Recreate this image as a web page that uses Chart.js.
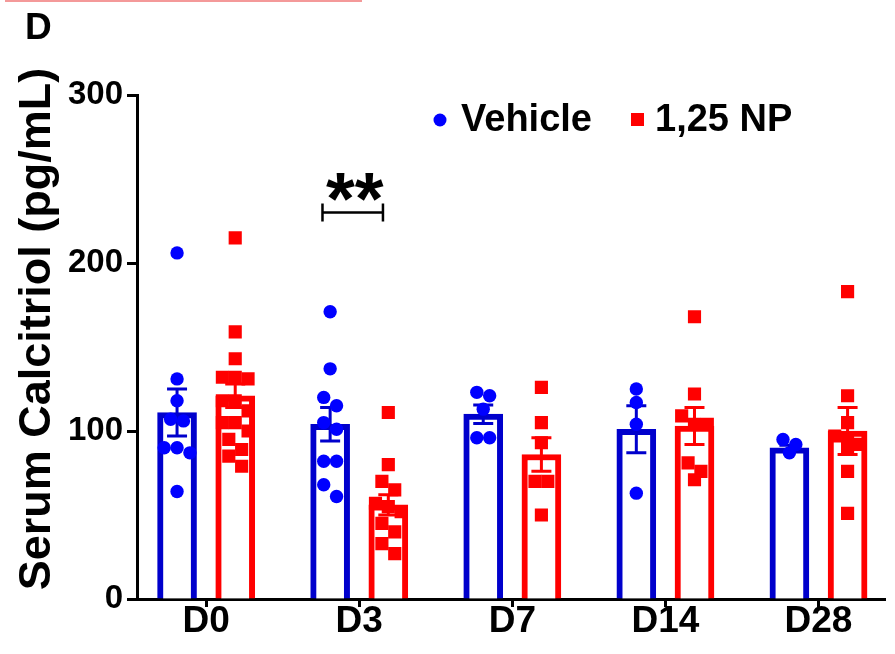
<!DOCTYPE html>
<html><head><meta charset="utf-8">
<script src="https://cdn.jsdelivr.net/npm/chart.js@4.4.1/dist/chart.umd.min.js"></script>
<style>html,body{margin:0;padding:0;background:#fff;overflow:hidden;}#wrap{width:895px;height:654px;}canvas{display:block;}</style>
</head><body><div id="wrap"><canvas id="c" width="895" height="654"></canvas></div>
<script>
// ---- data ----
const categories = ['D0', 'D3', 'D7', 'D14', 'D28'];
const yTicks = [0, 100, 200, 300];
const seriesNames = ['Vehicle', '1,25 NP'];
const yTitle = 'Serum Calcitriol (pg/mL)';
const panelLabel = 'D';

const vehicleD0 = [206, 131, 118, 107, 106, 90, 90, 87, 64];
const vehicleD3 = [171, 137, 120, 115, 105, 101, 82, 82, 68, 61];
const vehicleD7 = [123, 121, 113, 96, 96];
const vehicleD14 = [125, 117, 104, 63];
const vehicleD28 = [95, 92, 87];

const npD0 = [215, 159, 143, 132, 132, 131, 118, 118, 112, 105, 105, 100, 95, 89, 85, 79];
const npD3 = [111, 80, 70, 65, 57, 55, 52, 45, 40, 33, 27];
const npD7 = [126, 105, 93, 70, 70, 50];
const npD14 = [168, 122, 109, 104, 104, 81, 76, 71];
const npD28 = [183, 121, 105, 97, 95, 92, 89, 76, 51];

const vehicleMean = [111, 104, 110, 101, 90];
const vehicleSem = [14, 10, 5.5, 14, 1.5];
const npMean = [121, 56, 86, 103, 100];
const npSem = [7, 6, 10, 11, 14];

const sigLabel = '**';
const sigCategory = 1;
const sigValue = 230;

const vehiclePoints = [vehicleD0, vehicleD3, vehicleD7, vehicleD14, vehicleD28];
const npPoints = [npD0, npD3, npD7, npD14, npD28];

// ---- layout / style ----
const BLUE_BAR = '#0000cc', BLUE_PT = '#0000ff', RED = '#ff0000';
const FONT = '"Liberation Sans", Arial, sans-serif';
const GROUP_OFF = 0.19;
const PX_PER_X = 155, PX_PER_Y = 504 / 300, DOT = 13;

function swarm(values, catIndex, side) {
  const sorted = values.slice().sort((a, b) => b - a);
  const rows = []; let cur = null;
  sorted.forEach(v => {
    if (cur && (cur[0] - v) * PX_PER_Y < DOT) cur.push(v);
    else { cur = [v]; rows.push(cur); }
  });
  const out = [];
  rows.forEach(r => r.forEach((v, k) => {
    const off = (k - (r.length - 1) / 2) * DOT;
    out.push({ x: catIndex + side * GROUP_OFF + off / PX_PER_X, y: v });
  }));
  return out;
}

const vehicleScatter = vehiclePoints.flatMap((vals, i) => swarm(vals, i, -1));
const npScatter = npPoints.flatMap((vals, i) => swarm(vals, i, 1));

const decor = {
  id: 'decor',
  beforeDraw(chart) {
    const ctx = chart.ctx;
    ctx.save(); ctx.fillStyle = '#fff'; ctx.fillRect(0, 0, chart.width, chart.height);
    // remnant of the neighbouring panel at the top edge
    ctx.fillStyle = 'rgba(235,70,70,0.55)'; ctx.fillRect(5, 0, 357, 2);
    ctx.restore();
  },
  afterDatasetDraw(chart, args) {
    const ds = chart.data.datasets[args.index];
    if (!ds.semValues) return;
    const ctx = chart.ctx, ys = chart.scales.y;
    ctx.save();
    ctx.strokeStyle = ds.borderColor; ctx.lineWidth = 3;
    args.meta.data.forEach((bar, i) => {
      const m = ds.data[i].y, s = ds.semValues[i];
      const x = bar.x, y1 = ys.getPixelForValue(m + s), y2 = ys.getPixelForValue(m - s);
      ctx.beginPath();
      ctx.moveTo(x, y1); ctx.lineTo(x, y2);
      ctx.moveTo(x - 10, y1); ctx.lineTo(x + 10, y1);
      ctx.moveTo(x - 10, y2); ctx.lineTo(x + 10, y2);
      ctx.stroke();
    });
    ctx.restore();
  },
  afterDraw(chart) {
    const ctx = chart.ctx, xs = chart.scales.x, ys = chart.scales.y;
    ctx.save();
    ctx.fillStyle = '#000';
    // panel label
    ctx.font = 'bold 37px ' + FONT; ctx.textAlign = 'left'; ctx.textBaseline = 'alphabetic';
    ctx.fillText(panelLabel, 25, 39);
    // y title
    ctx.save();
    ctx.translate(38, 329); ctx.rotate(-Math.PI / 2);
    ctx.font = 'bold 45px ' + FONT; ctx.textAlign = 'center'; ctx.textBaseline = 'middle';
    ctx.fillText(yTitle, 0, 0);
    ctx.restore();
    // legend
    ctx.font = 'bold 38px ' + FONT; ctx.textBaseline = 'middle'; ctx.textAlign = 'left';
    ctx.fillStyle = BLUE_PT; ctx.beginPath(); ctx.arc(440, 120, 6.5, 0, Math.PI * 2); ctx.fill();
    ctx.fillStyle = '#000'; ctx.fillText(seriesNames[0], 461, 121);
    ctx.fillStyle = RED; ctx.fillRect(631, 113, 13, 13);
    ctx.fillStyle = '#000'; ctx.fillText(seriesNames[1], 655, 121);
    // significance
    const by = ys.getPixelForValue(sigValue);
    const bx1 = xs.getPixelForValue(sigCategory - 0.24), bx2 = xs.getPixelForValue(sigCategory + 0.155);
    ctx.strokeStyle = '#000'; ctx.lineWidth = 2.5;
    ctx.beginPath();
    ctx.moveTo(bx1, by); ctx.lineTo(bx2, by);
    ctx.moveTo(bx1, by - 9); ctx.lineTo(bx1, by + 9);
    ctx.moveTo(bx2, by - 9); ctx.lineTo(bx2, by + 9);
    ctx.stroke();
    ctx.font = 'bold 74px ' + FONT; ctx.textAlign = 'center'; ctx.textBaseline = 'alphabetic';
    ctx.fillText(sigLabel, (bx1 + bx2) / 2 + 2, by + 11);
    ctx.restore();
  }
};

Chart.defaults.font.family = FONT;
new Chart(document.getElementById('c'), {
  type: 'bar',
  data: {
    datasets: [
      { type: 'bar', label: seriesNames[0], data: vehicleMean.map((m, i) => ({ x: i - GROUP_OFF, y: m })),
        semValues: vehicleSem, backgroundColor: '#fff', borderColor: BLUE_BAR, borderWidth: 6,
        borderSkipped: 'start', barThickness: 39, grouped: false, order: 3 },
      { type: 'bar', label: seriesNames[1], data: npMean.map((m, i) => ({ x: i + GROUP_OFF, y: m })),
        semValues: npSem, backgroundColor: '#fff', borderColor: RED, borderWidth: 6,
        borderSkipped: 'start', barThickness: 39, grouped: false, order: 2 },
      { type: 'scatter', label: seriesNames[0], data: vehicleScatter, pointStyle: 'circle', pointRadius: 6.7,
        backgroundColor: BLUE_PT, borderWidth: 0, order: 1 },
      { type: 'scatter', label: seriesNames[1], data: npScatter, pointStyle: 'rect', pointRadius: 9.3,
        backgroundColor: RED, borderWidth: 0, order: 0 }
    ]
  },
  options: {
    responsive: false, animation: false, devicePixelRatio: 1,
    layout: { padding: { top: 95, right: 0, bottom: 0, left: 0 } },
    plugins: { legend: { display: false }, tooltip: { enabled: false } },
    scales: {
      x: {
        type: 'linear', min: -0.4516, max: 4.439, offset: false,
        afterBuildTicks: s => { s.ticks = categories.map((_, i) => ({ value: i })); },
        afterFit: s => { s.height = 55; s.paddingLeft = 0; s.paddingRight = 0; },
        ticks: { callback: v => categories[Math.round(v)], font: { size: 37, weight: 'bold' }, color: '#000', padding: -7, maxRotation: 0, autoSkip: false },
        grid: { offset: false, drawOnChartArea: false, tickLength: 8, tickWidth: 3, tickColor: '#000' },
        border: { color: '#000', width: 3 }
      },
      y: {
        min: 0, max: 300,
        afterBuildTicks: s => { s.ticks = yTicks.map(v => ({ value: v })); },
        afterFit: s => { s.width = 137; s.paddingTop = 0; s.paddingBottom = 0; },
        ticks: { font: { size: 33, weight: 'bold' }, color: '#000', padding: 4 },
        grid: { drawOnChartArea: false, tickLength: 10, tickWidth: 3, tickColor: '#000' },
        border: { color: '#000', width: 3 }
      }
    }
  },
  plugins: [decor]
});
</script></body></html>
